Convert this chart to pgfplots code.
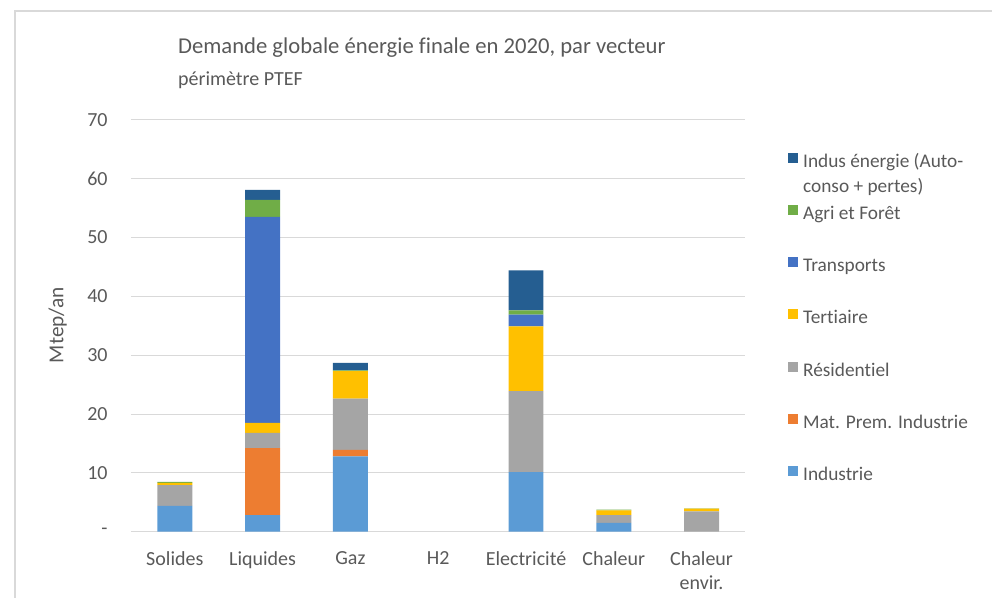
\documentclass[border=0pt]{standalone}
\usepackage{fontspec}
\setmainfont[Ligatures={NoCommon}]{Carlito}
\usepackage{pgfplots}
\pgfplotsset{compat=1.18}
\definecolor{cInd}{HTML}{5B9BD5}
\definecolor{cMat}{HTML}{ED7D31}
\definecolor{cRes}{HTML}{A5A5A5}
\definecolor{cTer}{HTML}{FFC000}
\definecolor{cTra}{HTML}{4472C4}
\definecolor{cAgr}{HTML}{70AD47}
\definecolor{cIen}{HTML}{255E91}
\definecolor{textgrey}{HTML}{595959}
\definecolor{gridgrey}{HTML}{D9D9D9}
\begin{document}
\begin{tikzpicture}
\path (0,0) rectangle (744.75pt,448.5pt);
\draw[gridgrey, line width=1pt] (11.25pt,0) -- (11.25pt,440.25pt) -- (744.75pt,440.25pt);
\node[anchor=west, text=textgrey, font=\fontsize{17}{20}\selectfont, inner sep=0pt] at (133.5pt,412.5pt) {Demande globale énergie finale en 2020, par vecteur};
\node[anchor=west, text=textgrey, font=\fontsize{15}{18}\selectfont, inner sep=0pt] at (133.5pt,388.5pt) {périmètre PTEF};
\begin{axis}[
  at={(98.25pt,49.5pt)}, anchor=south west,
  scale only axis, width=461.25pt, height=309pt,
  ybar stacked, bar width=26.25pt,
  xmin=-0.5, xmax=6.5, ymin=0, ymax=70,
  ytick={0,10,...,70}, yticklabels={-,10,20,30,40,50,60,70},
  xtick={0,...,6},
  xticklabels={Solides,Liquides,Gaz,H2,Electricité,Chaleur,{Chaleur\\envir.}},
  xticklabel style={align=center, text=textgrey, font=\fontsize{15}{18}\selectfont, anchor=north, yshift=-11.5pt},
  yticklabel style={text=textgrey, font=\fontsize{15}{18}\selectfont, anchor=east, xshift=-14pt},
  major tick length=0pt,
  ymajorgrids, grid style={gridgrey, line width=0.75pt},
  axis x line*=bottom, axis y line*=left,
  x axis line style={gridgrey, line width=0.75pt, -},
  y axis line style={draw=none},
  ylabel={Mtep/an},
  ylabel style={at={(axis description cs:-0.119,0.502)}, anchor=center, text=textgrey, font=\fontsize{16}{19}\selectfont},
  legend style={at={(axis description cs:1.063,0.931)}, anchor=north west, draw=none, fill=none,
    font=\fontsize{14.5}{18.75}\selectfont, text=textgrey, row sep=23.2pt,
    nodes={inner sep=0pt, text height=12pt, text depth=4pt},
    /tikz/every odd column/.append style={column sep=3.5pt}},
  legend cell align=left,
  reverse legend,
  legend image code/.code={\fill[#1] (0pt,-0.5pt) rectangle (7.5pt,7pt);},
]
\addplot[fill=cInd, draw=none] coordinates {(0,4.4) (1,2.8) (2,12.8) (3,0) (4,10.1) (5,1.5) (6,0)};
\addplot[fill=cMat, draw=none] coordinates {(0,0) (1,11.4) (2,1.1) (3,0) (4,0) (5,0) (6,0)};
\addplot[fill=cRes, draw=none] coordinates {(0,3.5) (1,2.6) (2,8.7) (3,0) (4,13.8) (5,1.3) (6,3.45)};
\addplot[fill=cTer, draw=none] coordinates {(0,0.4) (1,1.7) (2,4.7) (3,0) (4,11.0) (5,0.8) (6,0.45)};
\addplot[fill=cTra, draw=none] coordinates {(0,0) (1,35.0) (2,0) (3,0) (4,2.0) (5,0) (6,0)};
\addplot[fill=cAgr, draw=none] coordinates {(0,0.15) (1,2.9) (2,0.1) (3,0) (4,0.7) (5,0.15) (6,0.05)};
\addplot[fill=cIen, draw=none] coordinates {(0,0) (1,1.7) (2,1.3) (3,0) (4,6.8) (5,0) (6,0)};
\legend{Industrie, Mat. Prem. Industrie, Résidentiel, Tertiaire, Transports, Agri et Forêt,
  {\smash{\begin{tabular}[t]{@{}l@{}}Indus énergie (Auto-\\conso + pertes)\end{tabular}}}}
\end{axis}
\end{tikzpicture}
\end{document}
